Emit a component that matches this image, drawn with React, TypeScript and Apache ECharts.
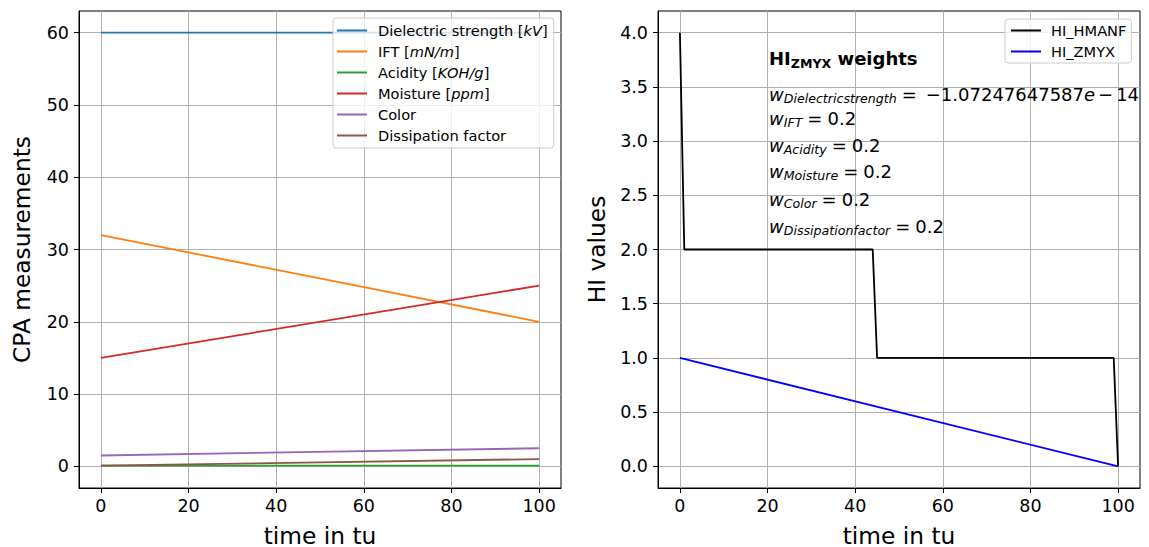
import React, { useEffect, useRef } from 'react';
import * as echarts from 'echarts';

const FONT = '"DejaVu Sans", sans-serif';

// ---- Left panel data (CPA measurements) ----
const time = [0, 100];
const dielectricStrength = [60, 60];
const ift = [32, 20];
const acidity = [0.1, 0.1];
const moisture = [15, 25];
const colorValues = [1.5, 2.5];
const dissipationFactor = [0.1, 1.0];

// ---- Right panel data (HI values) ----
const hmanfTime = [0, 1, 44, 45, 99, 100];
const hmanfValues = [4, 2, 2, 1, 1, 0];
const zmyxTime = [0, 100];
const zmyxValues = [1, 0];

// ---- Ticks ----
const xTicks = [0, 20, 40, 60, 80, 100];
const leftYTicks = [0, 10, 20, 30, 40, 50, 60];
const rightYTicks = [0, 0.5, 1, 1.5, 2, 2.5, 3, 3.5, 4];

// ---- Weights annotation ----
const weightNames = ['Dielectricstrength', 'IFT', 'Acidity', 'Moisture', 'Color', 'Dissipationfactor'];
const weightValues = [-1.07247647587e-14, 0.2, 0.2, 0.2, 0.2, 0.2];

const leftSeries = [
  { name: 'Dielectric strength [kV]', parts: ['Dielectric strength [', 'kV', ']'], values: dielectricStrength, color: '#1f77b4' },
  { name: 'IFT [mN/m]', parts: ['IFT [', 'mN/m', ']'], values: ift, color: '#ff7f0e' },
  { name: 'Acidity [KOH/g]', parts: ['Acidity [', 'KOH/g', ']'], values: acidity, color: '#2ca02c' },
  { name: 'Moisture [ppm]', parts: ['Moisture [', 'ppm', ']'], values: moisture, color: '#d62728' },
  { name: 'Color', parts: ['Color'], values: colorValues, color: '#9467bd' },
  { name: 'Dissipation factor', parts: ['Dissipation factor'], values: dissipationFactor, color: '#8c564b' },
];

const TICK_FS = 17.5;
const LEGEND_FS = 14.6;
const LABEL_FS = 23.3;

let measureCtx: CanvasRenderingContext2D | null = null;
function measure(text: string, font: string): number {
  if (!measureCtx) measureCtx = document.createElement('canvas').getContext('2d');
  measureCtx!.font = font;
  return measureCtx!.measureText(text).width;
}

type Part = { text: string; size: number; italic?: boolean; bold?: boolean; dy?: number; gapBefore?: number };

function buildAnnotation(): any[] {
  const x0 = 769;
  const MAIN = 18;
  const SUB = 12.6;
  const els: any[] = [];
  const addLine = (parts: Part[], baseline: number) => {
    let x = x0;
    for (const p of parts) {
      x += p.gapBefore || 0;
      const font = `${p.italic ? 'italic ' : ''}${p.bold ? 'bold ' : ''}${p.size}px ${FONT}`;
      els.push({
        type: 'text',
        x,
        y: baseline + (p.dy || 0) - 0.346 * p.size,
        silent: true,
        z: 50,
        style: {
          text: p.text,
          font,
          fill: '#000',
          align: 'left',
          verticalAlign: 'middle',
        },
      });
      x += measure(p.text, font);
    }
  };
  addLine(
    [
      { text: 'HI', size: MAIN, bold: true },
      { text: 'ZMYX', size: SUB, bold: true, dy: 3 },
      { text: ' weights', size: MAIN, bold: true },
    ],
    65
  );
  const baselines = [101, 125, 152, 178, 206, 233];
  weightNames.forEach((n, i) => {
    const v = weightValues[i];
    const parts: Part[] = [
      { text: 'w', size: MAIN, italic: true },
      { text: n, size: SUB, italic: true, dy: 2 },
    ];
    if (Math.abs(v) > 0 && Math.abs(v) < 1e-4) {
      const [mant, exp] = v.toExponential(11).split('e');
      parts.push({ text: '=', size: MAIN, gapBefore: 5 });
      parts.push({ text: mant.replace('-', '\u2212'), size: MAIN, gapBefore: 9 });
      parts.push({ text: 'e', size: MAIN, italic: true });
      parts.push({ text: '\u2212', size: MAIN, gapBefore: 3 });
      parts.push({ text: exp.replace('-', '').replace('+', ''), size: MAIN, gapBefore: 3 });
    } else {
      parts.push({ text: '=', size: MAIN, gapBefore: 5 });
      parts.push({ text: String(v), size: MAIN, gapBefore: 5 });
    }
    addLine(parts, baselines[i]);
  });
  return els;
}

const axisCommon = {
  axisLine: { show: true, onZero: false, lineStyle: { color: '#000', width: 1 } },
  axisTick: { show: true, inside: false, length: 5, lineStyle: { color: '#000', width: 1 } },
  splitLine: { show: true, lineStyle: { color: '#b0b0b0', width: 1 } },
  nameTextStyle: { color: '#000', fontSize: LABEL_FS, fontFamily: FONT },
};

function xAxis(gridIndex: number) {
  return {
    type: 'value',
    gridIndex,
    min: -5,
    max: 105,
    splitNumber: 5,
    name: 'time in tu',
    nameLocation: 'middle',
    nameGap: 36,
    ...axisCommon,
    axisTick: { ...axisCommon.axisTick, customValues: xTicks },
    axisLabel: {
      color: '#000',
      fontSize: TICK_FS,
      fontFamily: FONT,
      margin: 9,
      customValues: xTicks,
    },
  };
}

export default function App() {
  const ref = useRef<HTMLDivElement>(null);
  useEffect(() => {
    if (!ref.current) return;
    const chart = echarts.init(ref.current, undefined, { renderer: 'svg' });
    const rich = {
      n: { fontSize: LEGEND_FS, fontFamily: FONT, color: '#000' },
      i: { fontSize: LEGEND_FS, fontFamily: FONT, fontStyle: 'italic', color: '#000' },
    };
    const legendLabel = (name: string) => {
      const s = leftSeries.find((d) => d.name === name);
      if (!s) return `{n|${name}}`;
      return s.parts.map((p, k) => (k === 1 ? `{i|${p}}` : `{n|${p}}`)).join('');
    };
    const gridCommon = {
      top: 11,
      width: 482,
      height: 477,
      show: true,
      borderColor: '#000',
      borderWidth: 1,
      backgroundColor: 'transparent',
      containLabel: false,
      outerBoundsMode: 'none',
    };
    const option: any = {
      animation: false,
      backgroundColor: '#fff',
      grid: [
        { ...gridCommon, left: 79 },
        { ...gridCommon, left: 658 },
      ],
      xAxis: [xAxis(0), xAxis(1)],
      yAxis: [
        {
          type: 'value',
          gridIndex: 0,
          min: -3,
          max: 63,
          splitNumber: 6,
          name: 'CPA measurements',
          nameLocation: 'middle',
          nameGap: 46,
          ...axisCommon,
          axisTick: { ...axisCommon.axisTick, customValues: leftYTicks },
          axisLabel: {
            color: '#000',
            fontSize: TICK_FS,
            fontFamily: FONT,
            margin: 10,
            customValues: leftYTicks,
          },
        },
        {
          type: 'value',
          gridIndex: 1,
          min: -0.2,
          max: 4.2,
          splitNumber: 9,
          name: 'HI values',
          nameLocation: 'middle',
          nameGap: 50,
          ...axisCommon,
          axisTick: { ...axisCommon.axisTick, customValues: rightYTicks },
          axisLabel: {
            color: '#000',
            fontSize: TICK_FS,
            fontFamily: FONT,
            margin: 10,
            customValues: rightYTicks,
            formatter: (v: number) => v.toFixed(1),
          },
        },
      ],
      legend: [
        {
          data: leftSeries.map((s) => s.name),
          orient: 'vertical',
          left: 333,
          top: 18,
          padding: [5, 6, 5, 4],
          itemGap: 6,
          itemWidth: 30,
          itemHeight: 2,
          icon: 'rect',
          backgroundColor: 'rgba(255,255,255,0.8)',
          borderColor: '#cccccc',
          borderWidth: 1,
          borderRadius: 3,
          formatter: legendLabel,
          textStyle: { fontSize: LEGEND_FS, fontFamily: FONT, color: '#000', lineHeight: 14, padding: [0, 0, 0, 6], rich },
          selectedMode: false,
        },
        {
          data: ['HI_HMANF', 'HI_ZMYX'],
          orient: 'vertical',
          left: 1005,
          top: 19,
          padding: [4, 5, 4, 6],
          itemGap: 6,
          itemWidth: 30,
          itemHeight: 2,
          icon: 'rect',
          backgroundColor: 'rgba(255,255,255,0.8)',
          borderColor: '#cccccc',
          borderWidth: 1,
          borderRadius: 3,
          textStyle: { fontSize: LEGEND_FS, fontFamily: FONT, color: '#000', lineHeight: 14, padding: [0, 0, 0, 5] },
          selectedMode: false,
        },
      ],
      series: [
        ...leftSeries.map((s) => ({
          name: s.name,
          type: 'line',
          xAxisIndex: 0,
          yAxisIndex: 0,
          data: time.map((t, i) => [t, s.values[i]]),
          symbol: 'none',
          color: s.color,
          lineStyle: { color: s.color, width: 1.8 },
        })),
        {
          name: 'HI_HMANF',
          type: 'line',
          xAxisIndex: 1,
          yAxisIndex: 1,
          data: hmanfTime.map((t, i) => [t, hmanfValues[i]]),
          symbol: 'none',
          color: '#000000',
          lineStyle: { color: '#000000', width: 1.8 },
        },
        {
          name: 'HI_ZMYX',
          type: 'line',
          xAxisIndex: 1,
          yAxisIndex: 1,
          data: zmyxTime.map((t, i) => [t, zmyxValues[i]]),
          symbol: 'none',
          color: '#0000ff',
          lineStyle: { color: '#0000ff', width: 1.8 },
        },
      ],
      graphic: buildAnnotation(),
    };
    chart.setOption(option);
    return () => chart.dispose();
  }, []);
  return (
    <div
      ref={ref}
      style={{ position: 'fixed', left: 0, top: 0, width: 1149, height: 547, background: '#fff' }}
    />
  );
}
